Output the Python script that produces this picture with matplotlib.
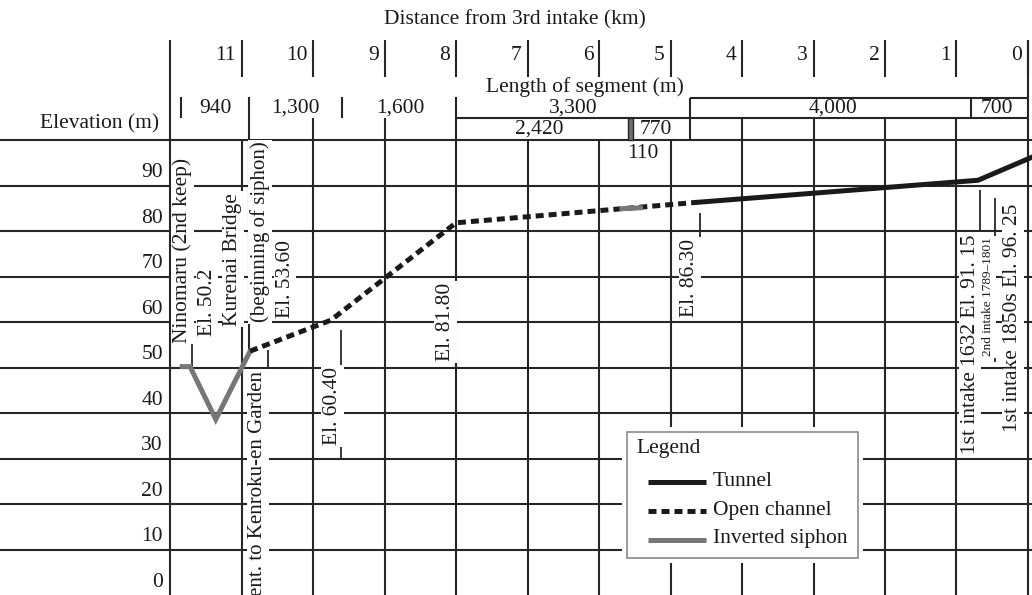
import matplotlib
matplotlib.use("Agg")
import matplotlib.pyplot as plt
from matplotlib.patches import Rectangle

plt.rcParams['font.family'] = ['Liberation Serif', 'DejaVu Serif']

# ---------------- data ----------------
km_ticks = [11, 10, 9, 8, 7, 6, 5, 4, 3, 2, 1, 0]
elev_ticks = [90, 80, 70, 60, 50, 40, 30, 20, 10, 0]

seg_labels = ["940", "1,300", "1,600", "3,300", "4,000", "700"]
seg_bounds = [11.84, 10.9, 9.6, 8.0, 4.73, 0.8, 0.0]
sub_labels = ["2,420", "770"]
sub_bounds = [8.0, 5.6, 5.52, 4.73]

siphon_km = [11.83, 11.72, 11.36, 10.88]
siphon_el = [50.2, 50.2, 38.6, 53.6]

open_km = [10.88, 9.75, 8.0, 4.63]
open_el = [53.6, 60.4, 81.8, 86.3]

siphon2_km = [5.68, 5.42]
siphon2_el = [84.9, 85.1]

tunnel_km = [4.63, 0.7, -0.06]
tunnel_el = [86.3, 91.15, 96.25]

legend_labels = ["Tunnel", "Open channel", "Inverted siphon"]

# ---------------- figure ----------------
W, H = 1032, 595
fig = plt.figure(figsize=(W / 100, H / 100), dpi=100)
ax = fig.add_axes([0, 0, 1, 1])
ax.set_xlim(14.378, -0.056)
ax.set_ylim(0, 130.77)
ax.axis('off')

GC = '#262626'
TC = '#1a1a1a'
LW = 1.5
FS = 15.5
DARK = '#1a1a1a'
GREY = '#777777'
DLW = 3.6
DASH = (0, (1.6, 1.0))

def vline(x, y0, y1, lw=LW, z=1):
    ax.plot([x, x], [y0, y1], color=GC, lw=lw, zorder=z, solid_capstyle='butt')

def hline(y, x0, x1, lw=LW, z=1):
    ax.plot([x0, x1], [y, y], color=GC, lw=lw, zorder=z, solid_capstyle='butt')

# horizontal grid lines (full width)
for e in range(10, 101, 10):
    hline(e, 14.378, -0.056)

# vertical grid lines
top_of = {12: 122, 11: 100, 10: 104.8, 9: 104.8, 8: 109.5, 7: 100, 6: 100, 5: 100,
          4: 104.8, 3: 104.8, 2: 104.8, 1: 104.8, 0: 122}
for k, t in top_of.items():
    vline(k, 0, t)

# km header bars and labels
for k in km_ticks:
    vline(k, 113.8, 122)
    ax.text(k + 0.08, 118.6, str(k), ha='right', va='center', fontsize=FS, color=TC)

ax.text(7.17, 126.4, "Distance from 3rd intake (km)", ha='center', va='center',
        fontsize=FS, color=TC)
ax.text(6.20, 111.6, "Length of segment (m)", ha='center', va='center',
        fontsize=FS, color=TC)
ax.text(12.99, 103.6, "Elevation (m)", ha='center', va='center', fontsize=FS, color=TC)

# elevation labels
for e in elev_ticks:
    ax.text(12.1, e + 2.8, str(e), ha='right', va='center', fontsize=FS, color=TC)

# segment row
vline(seg_bounds[0], 104.8, 109.5)
vline(seg_bounds[2], 104.8, 109.5)
vline(seg_bounds[1], siphon_el[-1], 109.5)
vline(seg_bounds[4], 100, 109.2)
vline(seg_bounds[5], 104.8, 109.2)
hline(109.2, seg_bounds[4], seg_bounds[6])
hline(104.8, seg_bounds[3], seg_bounds[6])
seg_text_x = [11.36, 10.25, 8.78, 6.36, 2.73, 0.44]
for lbl, xx in zip(seg_labels, seg_text_x):
    ax.text(xx, 107.0, lbl, ha='center', va='center', fontsize=FS, color=TC)

# sub-segment row
ax.add_patch(Rectangle((sub_bounds[2], 100), sub_bounds[1] - sub_bounds[2], 4.8,
                       facecolor='#6e6e6e', edgecolor=GC, lw=1.0, zorder=2))
ax.text(6.83, 102.4, sub_labels[0], ha='center', va='center', fontsize=FS, color=TC)
ax.text(5.2, 102.4, sub_labels[1], ha='center', va='center', fontsize=FS, color=TC)
ax.text(5.38, 97.1, "110", ha='center', va='center', fontsize=FS, color=TC)

# annotation leader lines
leaders = [(11.69, 50.2, 96.3), (10.63, 0, 53.8), (9.61, 29.7, 58.2),
           (4.59, 62, 84), (0.67, 39.6, 89), (0.46, 51.2, 87.3)]
for x, a, b in leaders:
    vline(x, a, b, lw=1.3, z=2)
hline(96.3, 11.75, 11.69, lw=1.3, z=2)

# rotated annotation texts
wb = dict(facecolor='white', edgecolor='none', pad=1.2)
annots = [
    (11.83, 75.8, "Ninomaru (2nd keep)", FS),
    (11.48, 64.4, "El. 50.2", FS),
    (11.12, 73.8, "Kurenai Bridge", FS),
    (10.74, 79.8, "(beginning of siphon)", 15),
    (10.39, 69.5, "El. 53.60", FS),
    (9.73, 41.5, "El. 60.40", FS),
    (8.15, 60.0, "El. 81.80", FS),
    (10.77, 24.6, "ent. to Kenroku-en Garden", 15),
    (4.73, 69.7, "El. 86.30", FS),
    (0.81, 55.2, "1st intake 1632 El. 91. 15", FS),
    (0.56, 65.5, "2nd intake 1789\u20131801", 9.5),
    (0.21, 60.9, "1st intake 1850s El. 96. 25", FS),
]
for x, y, s, fs in annots:
    ax.text(x, y, s, rotation=90, ha='center', va='center', fontsize=fs,
            color=TC, bbox=wb, zorder=3)

# data lines
ax.plot(siphon_km, siphon_el, color=GREY, lw=DLW, zorder=5, solid_joinstyle='miter')
ax.plot(open_km, open_el, color=DARK, lw=DLW, ls=DASH, zorder=5)
ax.plot(siphon2_km, siphon2_el, color=GREY, lw=DLW, zorder=6)
ax.plot(tunnel_km, tunnel_el, color=DARK, lw=DLW, zorder=5)

# legend (drawn as a boxed key in axes-fraction coordinates)
def fx(px):
    return px / W

def fy(py):
    return 1 - py / H

T = ax.transAxes
ax.add_patch(Rectangle((fx(622), fy(563)), fx(863) - fx(622), fy(427) - fy(563),
                       transform=T, facecolor='white', edgecolor='none', zorder=9))
ax.add_patch(Rectangle((fx(627), fy(558)), fx(858) - fx(627), fy(432) - fy(558),
                       transform=T, facecolor='white', edgecolor='#8a8a8a', lw=1.2,
                       zorder=10))
ax.text(fx(636), fy(449), "Legend", transform=T, ha='left', va='center',
        fontsize=FS, color=TC, zorder=11)
styles = [dict(color=DARK, ls='-'), dict(color=DARK, ls=DASH), dict(color=GREY, ls='-')]
rows = [482, 511, 540]
for lbl, st, ry in zip(legend_labels, styles, rows):
    ax.plot([fx(648), fx(706)], [fy(ry), fy(ry)], transform=T, lw=DLW,
            zorder=11, solid_capstyle='butt', **st)
    ax.text(fx(713), fy(ry - 1), lbl, transform=T, ha='left', va='center',
            fontsize=FS, color=TC, zorder=11)

fig.savefig('out.png', dpi=100)
